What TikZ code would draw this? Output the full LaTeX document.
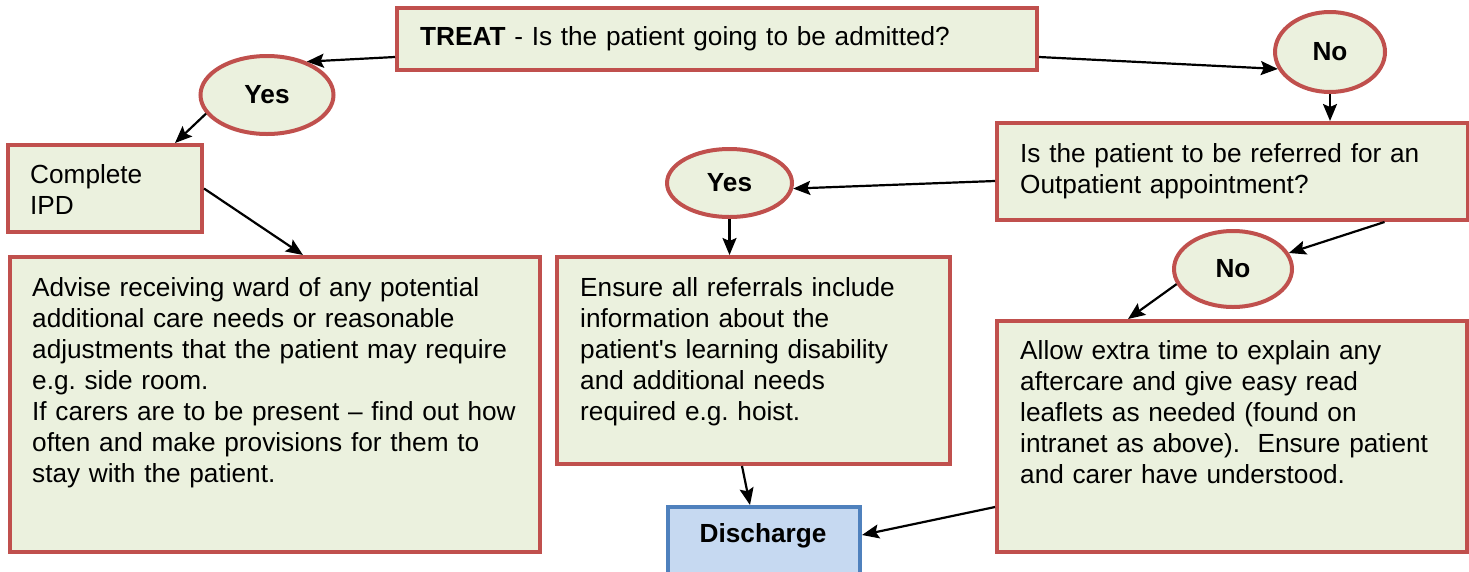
\documentclass[tikz,border=0pt]{standalone}
\usepackage{fontspec}
\setmainfont{Liberation Sans}
\usetikzlibrary{shapes.geometric,arrows.meta}
\definecolor{boxred}{HTML}{C0504D}
\definecolor{boxfill}{HTML}{EBF1DE}
\definecolor{dblue}{HTML}{4F81BD}
\definecolor{dfill}{HTML}{C6D9F1}
\frenchspacing
\begin{document}
\begin{tikzpicture}[x=1pt,y=-1pt,
 box/.style={draw=boxred,fill=boxfill,line width=4pt,inner sep=0pt,rectangle},
 oval/.style={draw=boxred,fill=boxfill,line width=4pt,ellipse,inner sep=0pt,font=\fontsize{26.2}{31}\selectfont\bfseries},
 txt/.style={anchor=base west,inner sep=0pt,align=left,text width=600pt,font=\fontsize{26.2}{31}\selectfont},
 arr/.style={-{Stealth[length=17pt,width=14pt,inset=3pt]},line width=2.2pt},
]
\useasboundingbox (0,0) rectangle (1469,571);
\clip (0,0) rectangle (1469,571);
% boxes
\node[box,minimum width=640pt,minimum height=62pt] (treat) at (717,39) {};
\node[oval,minimum width=133pt,minimum height=78pt] (yes1) at (267,95) {Yes};
\node[oval,minimum width=110pt,minimum height=80pt] (no1) at (1330,52) {No};
\node[box,minimum width=194pt,minimum height=87pt] (ipd) at (105,188.5) {};
\node[box,minimum width=530pt,minimum height=295pt] (advise) at (275,404.5) {};
\node[box,minimum width=471pt,minimum height=97pt] (ref) at (1232.5,171.5) {};
\node[oval,minimum width=125pt,minimum height=68pt] (yes2) at (729.5,183) {Yes};
\node[box,minimum width=393pt,minimum height=207pt] (ensure) at (753.5,360.5) {};
\node[oval,minimum width=118pt,minimum height=76pt] (no2) at (1233,269) {No};
\node[box,minimum width=470pt,minimum height=231pt] (allow) at (1232,436.5) {};
\node[rectangle,draw=dblue,fill=dfill,line width=4pt,inner sep=0pt,minimum width=192pt,minimum height=84pt] (disch) at (764,549) {};
% texts
\node[txt] (ttreat) at (420,45) {\textbf{TREAT} - Is the patient going to be admitted?};
\node[txt] (tipd) at (30,183) {Complete\\IPD};
\node[txt] (tadvise) at (32,296) {Advise receiving ward of any potential\\additional care needs or reasonable\\adjustments that the patient may require\\e.g. side room.\\If carers are to be present -- find out how\\often and make provisions for them to\\stay with the patient.};
\node[txt] (tensure) at (580,296) {Ensure all referrals include\\information about the\\patient\textquotesingle s learning disability\\and additional needs\\required e.g. hoist.};
\node[txt] (tref) at (1020,162) {Is the patient to be referred for an\\Outpatient appointment?};
\node[txt] (tallow) at (1020,359) {Allow extra time to explain any\\aftercare and give easy read\\leaflets as needed (found on\\intranet as above).\ \ Ensure patient\\and carer have understood.};
\node[font=\fontsize{26.2}{31}\selectfont\bfseries,inner sep=0pt] (tdisch) at (763,536) {Discharge};
% connectors
\draw[arr] ([yshift=-18pt]treat.west) -- (yes1.40);
\draw[arr] ([yshift=-18pt]treat.east) -- (no1.198);
\draw[arr] (no1.south) -- (no1.south |- ref.north);
\draw[arr] (yes1.197) -- ([xshift=70pt]ipd.north);
\draw[arr] (ipd.east) -- ([xshift=28pt]advise.north);
\draw[arr] ([yshift=-9.5pt]ref.west) -- (yes2.355);
\draw[arr] (yes2.south) -- (yes2.south |- ensure.north);
\draw[arr] ([xshift=152pt]ref.south) -- (no2.16);
\draw[arr] (no2.195) -- ([xshift=-104pt]allow.north);
\draw[arr] ([xshift=-11.5pt]ensure.south) -- ([xshift=-14pt]disch.north);
\draw[arr] ([yshift=-70.5pt]allow.west) -- ([yshift=14pt]disch.east);
\end{tikzpicture}
\end{document}
